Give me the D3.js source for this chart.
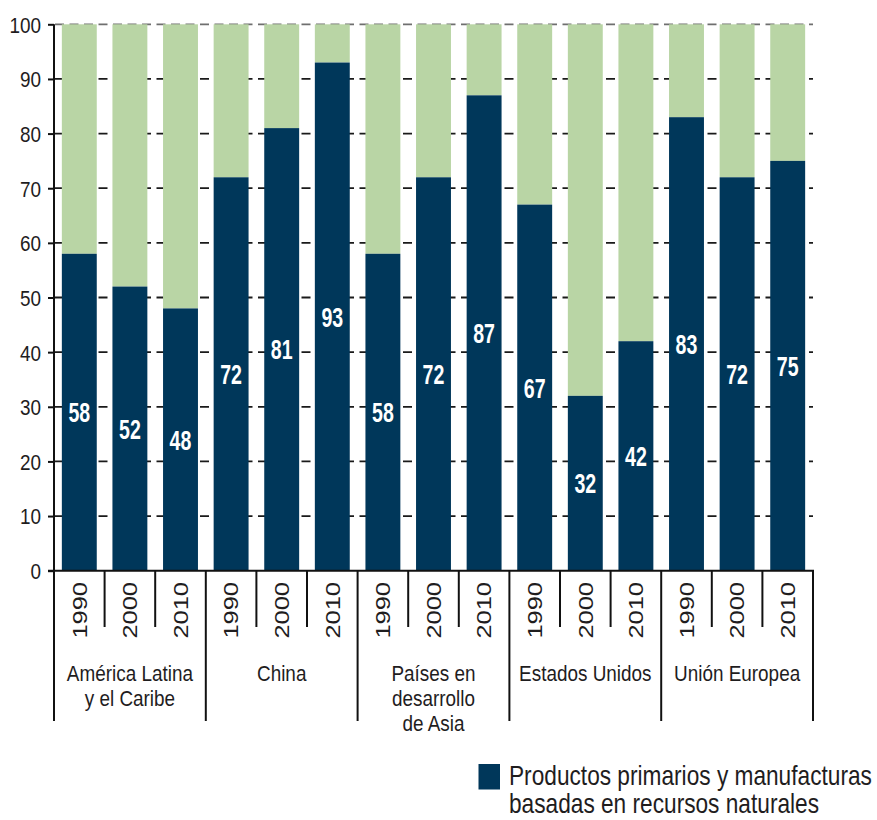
<!DOCTYPE html>
<html>
<head>
<meta charset="utf-8">
<script src="https://cdn.jsdelivr.net/npm/d3@7/dist/d3.min.js"></script>
<style>
  html, body { margin: 0; padding: 0; background: #ffffff; }
  svg { display: block; font-family: "Liberation Sans", Arial, sans-serif; }
</style>
</head>
<body>
<svg id="chart" width="877" height="820"></svg>
<script>
// Regions (multi-line labels), years and share of primary products (%)
const regions = [
  ["América Latina", "y el Caribe"],
  ["China"],
  ["Países en", "desarrollo", "de Asia"],
  ["Estados Unidos"],
  ["Unión Europea"]
];
const years = ["1990", "2000", "2010"];
const primaryShare = [
  [58, 52, 48],
  [72, 81, 93],
  [58, 72, 87],
  [67, 32, 42],
  [83, 72, 75]
];
const total = 100;
const yTicks = [0, 10, 20, 30, 40, 50, 60, 70, 80, 90, 100];
const legendLabel = ["Productos primarios y manufacturas", "basadas en recursos naturales"];

const DARK = "#00375a";
const LIGHT = "#b9d5a5";
const INK = "#1f1d1e";

const svg = d3.select("#chart");

const plotLeft = 54, plotRight = 813, plotTop = 24.3, plotBase = 570.7;
const sepBottom = 721, tickBottom = 627;

const x0 = d3.scaleBand().domain(d3.range(regions.length)).range([plotLeft, plotRight]).padding(0);
const x1 = d3.scaleBand().domain(years).range([0, x0.bandwidth()])
  .paddingInner(0.31).paddingOuter(0.155);
const y = d3.scaleLinear().domain([0, total]).range([plotBase, plotTop]);

// dashed gridlines behind the bars
svg.append("g").selectAll("line")
  .data(yTicks.filter(t => t > 0))
  .join("line")
  .attr("x1", plotLeft + 1).attr("x2", plotRight)
  .attr("y1", d => y(d)).attr("y2", d => y(d))
  .attr("stroke", d => d === total ? "#6f6f6f" : "#1a1a1a")
  .attr("stroke-width", 1.8)
  .attr("stroke-dasharray", "9,5.5");

// bars
const groups = svg.append("g").selectAll("g")
  .data(primaryShare)
  .join("g")
  .attr("transform", (d, i) => `translate(${x0(i)},0)`);

const cells = groups.selectAll("g")
  .data(d => d.map((v, j) => ({ year: years[j], value: v })))
  .join("g");

cells.append("rect")
  .attr("x", d => x1(d.year))
  .attr("width", x1.bandwidth())
  .attr("y", y(total))
  .attr("height", d => y(d.value) - y(total))
  .attr("fill", LIGHT);

cells.append("rect")
  .attr("x", d => x1(d.year))
  .attr("width", x1.bandwidth())
  .attr("y", d => y(d.value))
  .attr("height", d => y(0) - y(d.value))
  .attr("fill", DARK);

// value labels centred in the dark segment
cells.append("text")
  .attr("transform", d => `translate(${x1(d.year) + x1.bandwidth() / 2},${(y(d.value) + y(0)) / 2}) scale(0.7,1)`)
  .attr("text-anchor", "middle")
  .attr("dy", "0.36em")
  .attr("font-size", 28)
  .attr("font-weight", "bold")
  .attr("fill", "#ffffff")
  .text(d => d.value);

// y axis
const yAxis = d3.axisLeft(y).tickValues(yTicks).tickSize(6).tickFormat(d3.format("d"));
const yg = svg.append("g").attr("transform", `translate(${plotLeft},0)`).call(yAxis);
yg.select(".domain").remove();
yg.selectAll(".tick line").attr("stroke", "#111").attr("stroke-width", 2);
yg.selectAll(".tick text")
  .attr("x", 0)
  .attr("dy", "0.36em")
  .attr("transform", "translate(-13,0) scale(0.86,1)")
  .attr("font-size", 22)
  .attr("font-family", "'Liberation Sans', Arial, sans-serif")
  .attr("fill", INK);

// axis frame lines
const frame = svg.append("g").attr("stroke", "#111").attr("stroke-width", 2).attr("fill", "none");
frame.append("line").attr("x1", plotLeft).attr("x2", plotLeft).attr("y1", y(total)).attr("y2", sepBottom);
frame.append("line").attr("x1", plotLeft - 6).attr("x2", plotRight + 1).attr("y1", plotBase).attr("y2", plotBase);

// separators between regions
frame.selectAll(".sep")
  .data(d3.range(1, regions.length + 1))
  .join("line")
  .attr("x1", i => i < regions.length ? x0(i) : plotRight)
  .attr("x2", i => i < regions.length ? x0(i) : plotRight)
  .attr("y1", plotBase).attr("y2", sepBottom);

// short ticks between years inside each region
const innerTicks = [];
regions.forEach((r, i) => {
  years.slice(1).forEach(yr => innerTicks.push(x0(i) + x1(yr) - x1.step() * x1.paddingInner() / 2));
});
frame.selectAll(".yt")
  .data(innerTicks)
  .join("line")
  .attr("x1", d => d).attr("x2", d => d)
  .attr("y1", plotBase).attr("y2", tickBottom);

// rotated year labels
cells.append("text")
  .attr("transform", d => `translate(${x1(d.year) + x1.bandwidth() / 2 + 7.2},582) rotate(-90) scale(1.27,1)`)
  .attr("text-anchor", "end")
  .attr("font-size", 20)
  .attr("fill", INK)
  .text(d => d.year);

// region labels
const rl = svg.append("g").selectAll("text")
  .data(regions)
  .join("text")
  .attr("transform", (d, i) => `translate(${x0(i) + x0.bandwidth() / 2},680.5) scale(0.86,1)`)
  .attr("text-anchor", "middle")
  .attr("font-size", 22)
  .attr("fill", INK);
rl.selectAll("tspan")
  .data(d => d)
  .join("tspan")
  .attr("x", 0)
  .attr("y", (d, k) => k * 25.5)
  .text(d => d);

// legend
const lg = svg.append("g");
lg.append("rect").attr("x", 478.5).attr("y", 764).attr("width", 21.5).attr("height", 25.5).attr("fill", DARK);
const lt = lg.append("text")
  .attr("transform", "translate(509,785) scale(0.81,1)")
  .attr("font-size", 28)
  .attr("fill", INK);
lt.selectAll("tspan")
  .data(legendLabel)
  .join("tspan")
  .attr("x", 0)
  .attr("y", (d, k) => k * 28.5)
  .text(d => d);
</script>
</body>
</html>
